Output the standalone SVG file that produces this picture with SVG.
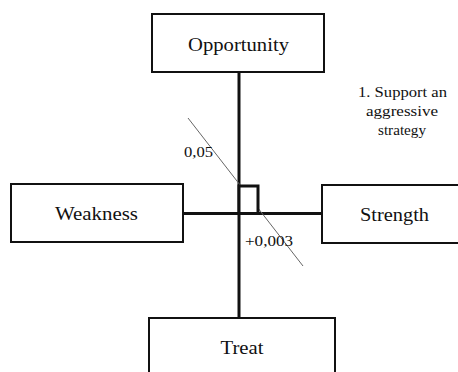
<svg xmlns="http://www.w3.org/2000/svg" width="458" height="372" viewBox="0 0 458 372">
<style>
.box{fill:#fff;stroke:#111;stroke-width:2}
.lbl{font-family:'Liberation Serif','DejaVu Serif',serif;font-size:19px;fill:#111;text-anchor:middle}
.small{font-family:'Liberation Serif','DejaVu Serif',serif;font-size:14px;fill:#111}
.conn{stroke:#111;stroke-width:3;fill:none}
.sq{stroke:#111;stroke-width:3;fill:#fff}
.diag{stroke:#666;stroke-width:1;fill:none}
</style>
<rect width="458" height="372" fill="#fff"/>
<g id="connectors">
<line class="conn" x1="239" y1="72" x2="239" y2="318"/>
<line class="conn" x1="183" y1="213.5" x2="322" y2="213.5"/>
<line class="diag" x1="188" y1="118" x2="303" y2="266"/>
<rect class="sq" x="239" y="186" width="19" height="27.5"/>
</g>
<g id="opportunity">
<rect class="box" x="152" y="14" width="172" height="58"/>
<text class="lbl" x="238.5" y="51" textLength="101" lengthAdjust="spacingAndGlyphs">Opportunity</text>
</g>
<g id="weakness">
<rect class="box" x="11" y="184" width="172" height="58"/>
<text class="lbl" x="96.5" y="220" textLength="83" lengthAdjust="spacingAndGlyphs">Weakness</text>
</g>
<g id="strength">
<rect class="box" x="322" y="185" width="150" height="58"/>
<text class="lbl" x="394.5" y="221" textLength="69" lengthAdjust="spacingAndGlyphs">Strength</text>
</g>
<g id="treat">
<rect class="box" x="149" y="318" width="186" height="70"/>
<text class="lbl" x="242" y="354" textLength="43" lengthAdjust="spacingAndGlyphs">Treat</text>
</g>
<g id="labels">
<text class="small" x="184" y="157" textLength="29" lengthAdjust="spacingAndGlyphs">0,05</text>
<text class="small" x="245" y="246" textLength="48" lengthAdjust="spacingAndGlyphs">+0,003</text>
<text class="small" x="358" y="96.5" textLength="89" lengthAdjust="spacingAndGlyphs">1. Support an</text>
<text class="small" x="366" y="115.5" textLength="72" lengthAdjust="spacingAndGlyphs">aggressive</text>
<text class="small" x="378" y="134.5" textLength="48" lengthAdjust="spacingAndGlyphs">strategy</text>
</g>
</svg>
